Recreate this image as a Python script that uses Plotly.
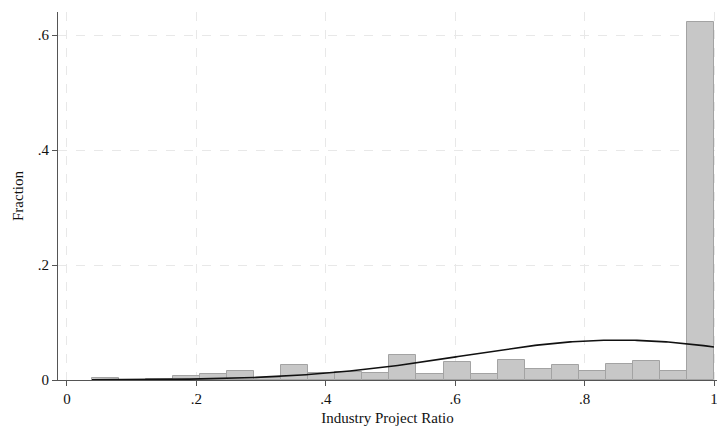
import numpy as np
import plotly.graph_objects as go

# Histogram of the industry project ratio (23 equal-width bins)
bin_start = 0.0385
bin_width = 0.0418
fractions = [0.003, 0.0, 0.002, 0.007, 0.010, 0.015, 0.004, 0.026, 0.013, 0.014,
             0.0115, 0.044, 0.011, 0.031, 0.011, 0.035, 0.020, 0.026, 0.016,
             0.028, 0.033, 0.016, 0.622]

# Normal overlay parameters (mean, sd of the ratio)
mu = 0.852
sigma = 0.240

x_ticks = [0, 0.2, 0.4, 0.6, 0.8, 1.0]
x_ticktext = ["0", ".2", ".4", ".6", ".8", "1"]
y_ticks = [0, 0.2, 0.4, 0.6]
y_ticktext = ["0", ".2", ".4", ".6"]

centers = [bin_start + bin_width * (i + 0.5) for i in range(len(fractions))]
x_end = bin_start + bin_width * len(fractions)

fig = go.Figure()
fig.add_trace(go.Bar(
    x=centers, y=fractions, width=bin_width,
    marker=dict(color="#c7c7c7", line=dict(color="#a3a3a3", width=1)),
    showlegend=False, hoverinfo="skip",
))

xs = np.linspace(bin_start, x_end, 300)
dens = bin_width * np.exp(-0.5 * ((xs - mu) / sigma) ** 2) / (sigma * np.sqrt(2 * np.pi))
fig.add_trace(go.Scatter(
    x=xs, y=dens, mode="lines",
    line=dict(color="#111111", width=1.6),
    showlegend=False, hoverinfo="skip",
))

font = "Liberation Serif, Times New Roman, serif"
grid = dict(showgrid=True, gridcolor="#e8e8e8", griddash="dash", gridwidth=1)

fig.update_layout(
    width=717, height=426,
    margin=dict(l=58, r=0, t=12, b=46),
    paper_bgcolor="white", plot_bgcolor="white",
    font=dict(family=font, size=15, color="#111111"),
    bargap=0,
    xaxis=dict(
        range=[-0.0139, 1.0046], tickvals=x_ticks, ticktext=x_ticktext,
        ticks="outside", ticklen=5, tickcolor="#555555",
        showline=True, linecolor="#555555", linewidth=1.2,
        zeroline=False, ticklabeloverflow="allow",
        title=dict(text="Industry Project Ratio", font=dict(size=15), standoff=6),
        tickfont=dict(size=15), **grid,
    ),
    yaxis=dict(
        range=[0, 0.64], tickvals=y_ticks, ticktext=y_ticktext,
        ticks="outside", ticklen=5, tickcolor="#555555",
        showline=True, linecolor="#555555", linewidth=1.2,
        zeroline=False,
        title=dict(text="Fraction", font=dict(size=15), standoff=10),
        tickfont=dict(size=15), **grid,
    ),
)

fig.write_html("out.html")
